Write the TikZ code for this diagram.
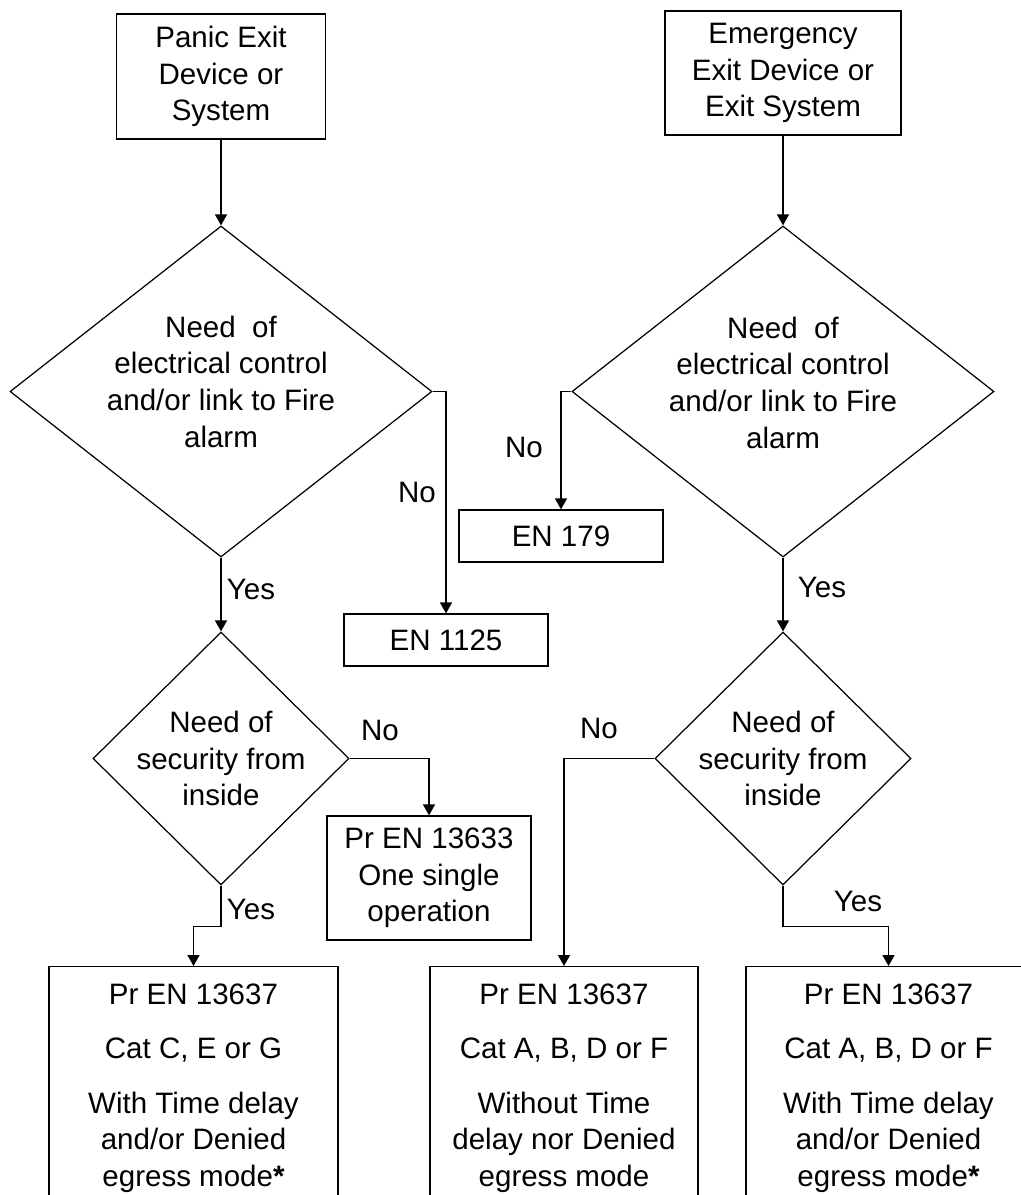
\documentclass[tikz,border=0pt]{standalone}
\usepackage{fontspec}
\setmainfont{Liberation Sans}
\usetikzlibrary{shapes.geometric, arrows.meta}

\begin{document}
\begin{tikzpicture}[
		every node/.style={font=\fontsize{16.8}{20.8}\selectfont, align=center},
		box/.style={rectangle, draw, line width=0.7pt, inner sep=0pt},
		decision/.style={diamond, draw, line width=0.7pt, inner sep=-4pt},
		big decision/.style={decision, shape aspect=1.3, inner sep=-10pt, minimum width=8.44cm, minimum height=6.62cm},
		flow/.style={-{Triangle[length=0.22cm, width=0.24cm]}, line width=0.8pt},
		tag/.style={inner sep=0pt}
	]
  \path[use as bounding box, clip] (0cm, 0cm) rectangle (20.42cm, -23.9cm);
  \node (panic) [box, minimum width=4.18cm, minimum height=2.5cm] at (4.42cm, -1.53cm) {Panic Exit\\ Device or\\ System};
  \node (emerg) [box, minimum width=4.72cm, minimum height=2.48cm] at (15.66cm, -1.46cm) {Emergency\\ Exit Device or\\ Exit System};
  \node (elec_l) [big decision, text depth=0.4cm] at (4.42cm, -7.83cm) {Need\ \ of\\ electrical control\\ and/or link to Fire\\ alarm};
  \node (elec_r) [big decision, text depth=0.36cm] at (15.66cm, -7.83cm) {Need\ \ of\\ electrical control\\ and/or link to Fire\\ alarm};
  \node (en_179) [box, minimum width=4.08cm, minimum height=1.04cm] at (11.22cm, -10.72cm) {EN 179};
  \node (en_1125) [box, minimum width=4.08cm, minimum height=1.04cm] at (8.92cm, -12.8cm) {EN 1125};
  \node (sec_l) [decision, minimum width=5.12cm, minimum height=5.06cm] at (4.42cm, -15.17cm) {Need of\\ security from\\ inside};
  \node (sec_r) [decision, minimum width=5.12cm, minimum height=5.06cm] at (15.66cm, -15.17cm) {Need of\\ security from\\ inside};
  \node (en_13633) [box, minimum width=4.08cm, minimum height=2.48cm] at (8.58cm, -17.56cm) {Pr EN 13633\\ One single\\ operation};
  \node (en_13637_l) [box, anchor=north, minimum width=5.78cm, minimum height=4.86cm] at (3.87cm, -19.32cm) {Pr EN 13637\\[0.36cm] Cat C, E or G\\[0.36cm] With Time delay\\ and/or Denied\\ egress mode\textbf{*}};
  \node (en_13637_m) [box, anchor=north, minimum width=5.36cm, minimum height=4.86cm] at (11.28cm, -19.32cm) {Pr EN 13637\\[0.36cm] Cat A, B, D or F\\[0.36cm] Without Time\\ delay nor Denied\\ egress mode};
  \node (en_13637_r) [box, anchor=north, minimum width=5.7cm, minimum height=4.86cm] at (17.77cm, -19.32cm) {Pr EN 13637\\[0.36cm] Cat A, B, D or F\\[0.36cm] With Time delay\\ and/or Denied\\ egress mode\textbf{*}};
  \node (no_1125) [tag] at (8.34cm, -9.84cm) {No};
  \node (no_179) [tag] at (10.48cm, -8.94cm) {No};
  \node (yes_l) [tag] at (5.02cm, -11.78cm) {Yes};
  \node (yes_r) [tag] at (16.44cm, -11.74cm) {Yes};
  \node (no_13633) [tag] at (7.6cm, -14.6cm) {No};
  \node (no_m) [tag] at (11.98cm, -14.56cm) {No};
  \node (yes_sec_l) [tag] at (5.02cm, -18.18cm) {Yes};
  \node (yes_sec_r) [tag] at (17.16cm, -18.02cm) {Yes};
  \draw [flow] (panic) -- (elec_l);
  \draw [flow] (emerg) -- (elec_r);
  \draw [flow] (elec_l.east) -| (en_1125.north);
  \draw [flow] (elec_r.west) -| (en_179.north);
  \draw [flow] (elec_l) -- (sec_l);
  \draw [flow] (elec_r) -- (sec_r);
  \draw [flow] (sec_l.east) -| (en_13633.north);
  \draw [flow] (sec_r.west) -| (en_13637_m.north);
  \draw [flow] (sec_l.south) -- ++(0cm, -0.82cm) -| (en_13637_l.north);
  \draw [flow] (sec_r.south) -- ++(0cm, -0.82cm) -| (en_13637_r.north);
\end{tikzpicture}
\end{document}
